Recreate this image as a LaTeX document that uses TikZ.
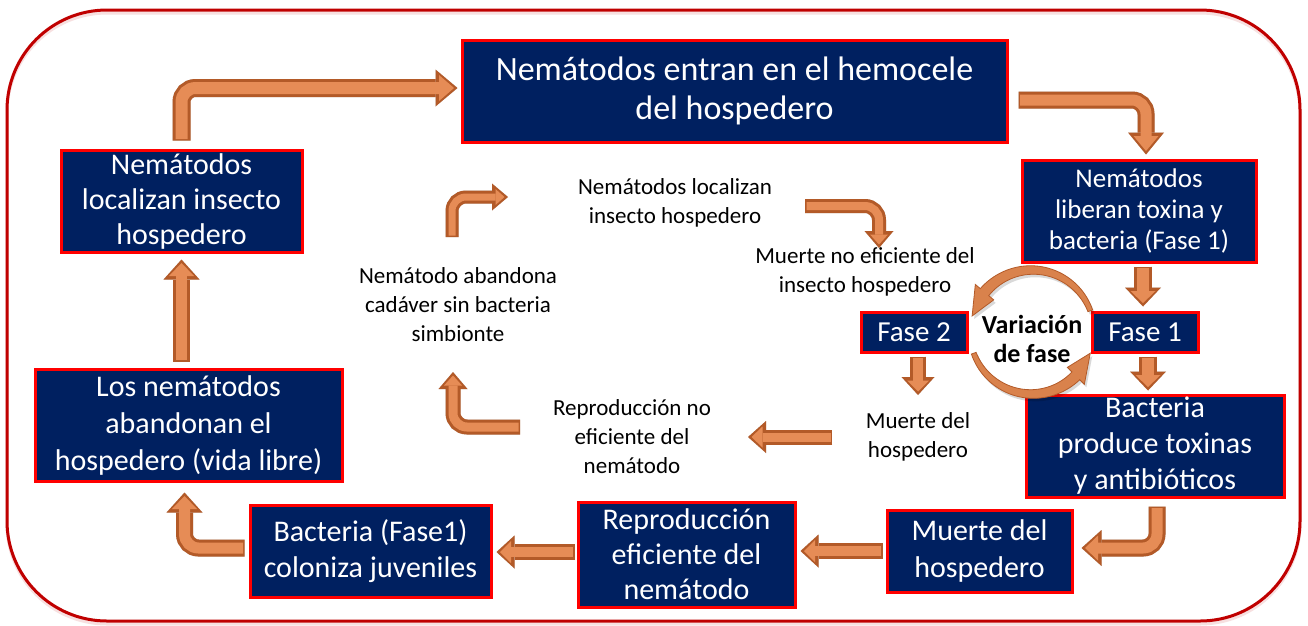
\documentclass[tikz,border=0pt]{standalone}
\usepackage{fontspec}
\setmainfont{Carlito}
\usetikzlibrary{arrows.meta,calc}
\definecolor{navy}{HTML}{002060}
\definecolor{boxred}{HTML}{FF0000}
\definecolor{framered}{HTML}{C00000}
\definecolor{cudark}{HTML}{B35A28}
\definecolor{culight}{HTML}{E68C56}
\definecolor{cumid}{HTML}{D9824C}
\tikzset{
  box/.style={fill=navy, draw=boxred, line width=3pt, text=white, align=center, inner sep=0pt},
  lbl/.style={align=center, text=black, inner sep=0pt, font=\fontsize{23}{29}\selectfont},
  cuarc/.style={fill=cumid, draw=cudark, line width=0.8pt},
}
\newcommand\cuarr[4]{%
  \pgfmathsetmacro\cuiw{#1-6}%
  \pgfmathsetmacro\cuihw{#2-11}%
  \pgfmathsetmacro\cuihl{#3-7}%
  \draw[black, opacity=0.18, xshift=3pt, yshift=-4pt, rounded corners=14pt, line width=#1pt, -{Triangle[width=#2pt,length=#3pt,line width=0pt]}] #4;
  \draw[cudark, rounded corners=14pt, line width=#1pt, -{Triangle[width=#2pt,length=#3pt,line width=0pt]}] #4;
  \draw[culight, rounded corners=14pt, line width=\cuiw pt, shorten >=3.5pt, shorten <=1.5pt, -{Triangle[width=\cuihw pt,length=\cuihl pt,line width=0pt]}] #4;
}
\begin{document}
\begin{tikzpicture}[x=1pt,y=-1pt]
\useasboundingbox (0,0) rectangle (1308,625);
\fill[white] (0,0) rectangle (1308,625);
% frame
\draw[framered!12, line width=3pt, rounded corners=100pt] (7,13) rectangle (1300,624);
\draw[framered, line width=3pt, rounded corners=100pt] (7,10) rectangle (1300,621);

% main boxes
\node[box, minimum width=545pt, minimum height=102pt, font=\fontsize{34}{39}\selectfont] (ent) at (734.5,91) {Nemátodos entran en el hemocele\\del hospedero};
\node[box, minimum width=241pt, minimum height=102pt, font=\fontsize{30}{35}\selectfont] (loc) at (181.5,201) {Nemátodos\\localizan insecto\\hospedero};
\node[box, minimum width=234pt, minimum height=102pt, font=\fontsize{27}{31}\selectfont] (lib) at (1139,211) {Nemátodos\\liberan toxina y\\bacteria (Fase 1)};
\node[box, minimum width=106pt, minimum height=40pt, font=\fontsize{29}{33}\selectfont] (f2) at (914,332) {Fase 2};
\node[box, minimum width=106pt, minimum height=40pt, font=\fontsize{29}{33}\selectfont] (f1) at (1145,332) {Fase 1};
\node[box, minimum width=258pt, minimum height=102pt, font=\fontsize{30}{36}\selectfont] (bac) at (1155,446) {Bacteria\\produce toxinas\\y antibióticos};
\node[box, minimum width=185pt, minimum height=82pt, font=\fontsize{30}{37}\selectfont] (mue) at (979.5,551) {Muerte del\\hospedero};
\node[box, minimum width=217pt, minimum height=105pt, font=\fontsize{30}{35}\selectfont] (rep) at (686.5,554.5) {Reproducción\\eficiente del\\nemátodo};
\node[box, minimum width=241pt, minimum height=92pt, font=\fontsize{30}{36}\selectfont] (col) at (370.5,551) {Bacteria (Fase1)\\coloniza juveniles};
\node[box, minimum width=307pt, minimum height=112pt, font=\fontsize{30}{37}\selectfont] (los) at (188.5,425) {Los nemátodos\\abandonan el\\hospedero (vida libre)};

% inner labels
\node[lbl] (t1) at (675,203) {Nemátodos localizan\\insecto hospedero};
\node[lbl] (t2) at (865,272) {Muerte no eficiente del\\insecto hospedero};
\node[lbl] (t3) at (918,437) {Muerte del\\hospedero};
\node[lbl] (t4) at (632,437) {Reproducción no\\eficiente del\\nemátodo};
\node[lbl] (t5) at (458,305) {Nemátodo abandona\\cadáver sin bacteria\\simbionte};
\node[lbl, font=\bfseries\fontsize{26}{29}\selectfont] (var) at (1032,339) {Variación\\de fase};

% circular arrows (phase variation)
\def\acx{1032}\def\acy{332}\def\acr{62}
\fill[black, opacity=0.15, xshift=2pt, yshift=-3pt]
  plot[variable=\t, domain=-20:-140, samples=40] ({\acx+(\acr+2.5+3*(\t+20)/(-120))*cos(\t)}, {\acy+(\acr+2.5+3*(\t+20)/(-120))*sin(\t)})
  -- ({\acx+(\acr+12)*cos(-140)}, {\acy+(\acr+12)*sin(-140)})
  -- ({\acx+\acr*cos(-165)}, {\acy+\acr*sin(-165)})
  -- ({\acx+(\acr-12)*cos(-140)}, {\acy+(\acr-12)*sin(-140)})
  -- plot[variable=\t, domain=-140:-20, samples=40] ({\acx+(\acr-2.5-3*(\t+20)/(-120))*cos(\t)}, {\acy+(\acr-2.5-3*(\t+20)/(-120))*sin(\t)})
  -- cycle;
\filldraw[cuarc]
  plot[variable=\t, domain=-20:-140, samples=40] ({\acx+(\acr+2.5+3*(\t+20)/(-120))*cos(\t)}, {\acy+(\acr+2.5+3*(\t+20)/(-120))*sin(\t)})
  -- ({\acx+(\acr+12)*cos(-140)}, {\acy+(\acr+12)*sin(-140)})
  -- ({\acx+\acr*cos(-165)}, {\acy+\acr*sin(-165)})
  -- ({\acx+(\acr-12)*cos(-140)}, {\acy+(\acr-12)*sin(-140)})
  -- plot[variable=\t, domain=-140:-20, samples=40] ({\acx+(\acr-2.5-3*(\t+20)/(-120))*cos(\t)}, {\acy+(\acr-2.5-3*(\t+20)/(-120))*sin(\t)})
  -- cycle;
\fill[black, opacity=0.15, xshift=2pt, yshift=-3pt]
  plot[variable=\t, domain=160:45, samples=40] ({\acx+(\acr+2.5+3*(160-\t)/115)*cos(\t)}, {\acy+(\acr+2.5+3*(160-\t)/115)*sin(\t)})
  -- ({\acx+(\acr+12)*cos(45)}, {\acy+(\acr+12)*sin(45)})
  -- ({\acx+\acr*cos(20)}, {\acy+\acr*sin(20)})
  -- ({\acx+(\acr-12)*cos(45)}, {\acy+(\acr-12)*sin(45)})
  -- plot[variable=\t, domain=45:160, samples=40] ({\acx+(\acr-2.5-3*(160-\t)/115)*cos(\t)}, {\acy+(\acr-2.5-3*(160-\t)/115)*sin(\t)})
  -- cycle;
\filldraw[cuarc]
  plot[variable=\t, domain=160:45, samples=40] ({\acx+(\acr+2.5+3*(160-\t)/115)*cos(\t)}, {\acy+(\acr+2.5+3*(160-\t)/115)*sin(\t)})
  -- ({\acx+(\acr+12)*cos(45)}, {\acy+(\acr+12)*sin(45)})
  -- ({\acx+\acr*cos(20)}, {\acy+\acr*sin(20)})
  -- ({\acx+(\acr-12)*cos(45)}, {\acy+(\acr-12)*sin(45)})
  -- plot[variable=\t, domain=45:160, samples=40] ({\acx+(\acr-2.5-3*(160-\t)/115)*cos(\t)}, {\acy+(\acr-2.5-3*(160-\t)/115)*sin(\t)})
  -- cycle;

% outer cycle arrows
\cuarr{18}{37}{22}{($(loc.north)+(0,-8)$) |- ($(ent.west)+(-3,-3)$)}
\cuarr{17}{36}{22}{($(ent.east)+(10,9)$) -| ($(lib.north)+(7,-4)$)}
\cuarr{18}{36}{19}{($(lib.south)+(4,3)$) -- ($(f1.north)+(-2,-4)$)}
\cuarr{18}{36}{19}{($(f1.south)+(3,3)$) -- ($(bac.north)+(-7,-3)$)}
\cuarr{17}{36}{20}{($(bac.south)+(2,8)$) |- ($(mue.east)+(8,-3)$)}
\cuarr{16}{33}{18}{($(mue.west)+(-3,0)$) -- ($(rep.east)+(4,-3.5)$)}
\cuarr{16}{33}{18}{($(rep.west)+(-2,-2.5)$) -- ($(col.east)+(4,1)$)}
\cuarr{17}{36}{20}{($(col.west)+(-4,-3)$) -| ($(los.south)+(-4,10)$)}
\cuarr{17}{36}{20}{($(los.north)+(-7,-6)$) -- ($(loc.south)+(0,6)$)}
% inner cycle arrows
\cuarr{14}{29}{17}{($(t1.center)+(130,3)$) -| ($(t2.center)+(14,-24)$)}
\cuarr{16}{33}{18}{($(f2.south)+(4,3)$) -- ($(t3.center)+(0,-42)$)}
\cuarr{15}{32}{18}{($(t3.center)+(-86,0)$) -- ($(t4.center)+(116,0)$)}
\cuarr{15}{29}{17}{($(t4.center)+(-112,-10)$) -| ($(t5.center)+(-5,67)$)}
\cuarr{13}{27}{16}{($(t5.center)+(-6,-68)$) |- ($(t1.center)+(-167,-6)$)}
\end{tikzpicture}
\end{document}
